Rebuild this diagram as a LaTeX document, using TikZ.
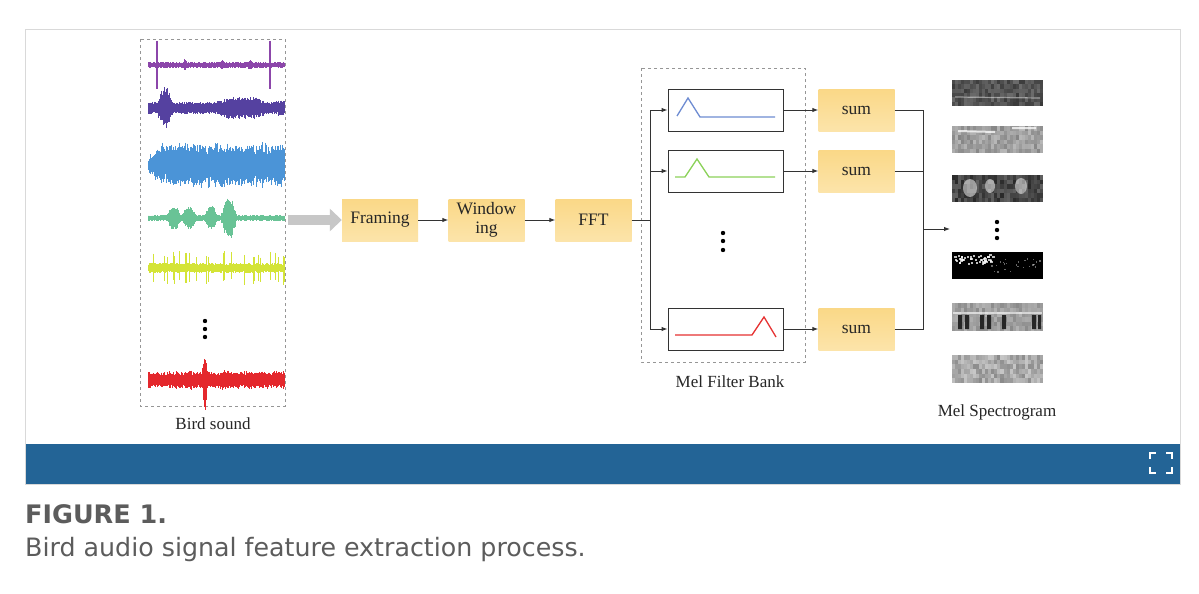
\documentclass[tikz,border=0pt]{standalone}
\usepackage{fontspec}
\usepackage{graphicx}
\setmainfont{Liberation Serif}
\newfontfamily\capfont{DejaVu Sans}
\usetikzlibrary{arrows.meta,calc}
\definecolor{boxfill}{RGB}{250,216,135}
\definecolor{boxfilllt}{RGB}{252,228,170}
\definecolor{barblue}{RGB}{35,100,150}
\definecolor{capgray}{RGB}{92,92,92}
\definecolor{dashgray}{RGB}{150,150,150}
\definecolor{wpurple}{RGB}{140,70,170}
\definecolor{wdblue}{RGB}{85,65,160}
\definecolor{wlblue}{RGB}{75,148,215}
\definecolor{wgreen}{RGB}{105,195,150}
\definecolor{wyellow}{RGB}{212,228,55}
\definecolor{wred}{RGB}{228,40,45}
\definecolor{fblue}{RGB}{110,140,210}
\definecolor{fgreen}{RGB}{140,210,90}
\definecolor{fred}{RGB}{230,50,50}
\newcommand\specgrid[4]{%
  \foreach \i in {0,...,29}{\foreach \j in {0,...,5}{%
    \pgfmathsetmacro\g{#3+#4*rnd}%
    \fill[black!\g] ({952+3.03*\i},{#1+\j*#2/6}) rectangle ++(3.4,{#2/6+0.3});}}}
\newcommand\wavefill[3]{%
  \foreach \x in {148,148.6,...,285}{%
    \pgfmathsetmacro\aa{#3}%
    \pgfmathsetmacro\up{\aa*(0.6+0.4*rnd)}%
    \pgfmathsetmacro\dn{\aa*(0.6+0.4*rnd)}%
    \draw[#1, line width=0.8pt] (\x,{#2-\up}) -- (\x,{#2+\dn});}}
\tikzset{
  proc/.style={rectangle, top color=boxfill, bottom color=boxfilllt, draw=none,
    minimum width=76pt, minimum height=42pt, inner sep=1pt, align=center,
    font=\fontsize{17.5}{19.5}\selectfont, text=black!85},
  filt/.style={rectangle, draw=black!80, line width=1pt, minimum width=115pt, minimum height=42pt},
  grp/.style={draw=dashgray, dashed, line width=0.8pt},
  conn/.style={draw=black!80, line width=1pt},
  arr/.style={conn, -{Latex[length=6pt,width=4.5pt]}},
  lbl/.style={font=\fontsize{17}{19}\selectfont, text=black!85},
}
\begin{document}
\begin{tikzpicture}[x=1pt,y=-1pt]
\useasboundingbox (0,0) rectangle (1199,594);
\fill[white] (0,0) rectangle (1199,594);
% frame
\draw[black!15, line width=1pt] (25.5,29.5) rectangle (1180.5,484.5);
\fill[barblue] (26,444) rectangle (1180,484);
\draw[white, line width=2.5pt] (1150,459)--(1150,453)--(1156,453) (1166,453)--(1172,453)--(1172,459)
  (1150,467)--(1150,473)--(1156,473) (1172,467)--(1172,473)--(1166,473);
\node[anchor=base west, inner sep=0, text=capgray, font=\capfont\bfseries\fontsize{25.5}{28}\selectfont] (figlbl) at (25,523) {FIGURE 1.};
\node[anchor=base west, inner sep=0, text=capgray, font=\capfont\fontsize{25.3}{28}\selectfont] (figcap) at (25,556) {Bird audio signal feature extraction process.};

% ---------- bird sound ----------
\pgfmathsetseed{7}
\draw[grp] (140,39) rectangle (285,406);
\node[lbl] (birdlbl) at (213,424) {Bird sound};
% purple
\wavefill{wpurple}{65}{3 + 4*max(0,1-abs(\x-185)/2) + 3*max(0,1-abs(\x-222)/2) + 2*max(0,1-abs(\x-250)/3)}
\draw[wpurple, line width=1.5pt] (157,41)--(157,89) (270,41)--(270,89);
% dark blue
\wavefill{wdblue}{108}{6 + 15*min(1,1.4*max(0,1-abs(\x-165)/8)) + 5*min(1,2*max(0,1-abs(\x-242)/26)) + 3*max(0,1-abs(\x-281)/6)}
% light blue
\wavefill{wlblue}{165}{5 + 15*min(1,max(0,(\x-148)/14)) + 3*(rnd>0.7) - 5*(rnd>0.93)}
% green
\wavefill{wgreen}{218}{3 + 9*min(1,1.6*max(0,1-abs(\x-174)/7)) + 8*min(1,1.6*max(0,1-abs(\x-189)/7)) + 9*min(1,1.6*max(0,1-abs(\x-211)/6)) + 19*min(1,1.3*max(0,1-abs(\x-229)/8))}
% yellow
\wavefill{wyellow}{268}{5 + 12*(rnd>0.88)}
% dots
\fill[black] (205,321) circle (2.2) (205,329) circle (2.2) (205,337) circle (2.2);
% red
\wavefill{wred}{380}{8 + 20*min(1,1.3*max(0,1-abs(\x-205)/3)) + 2*(rnd>0.85)}

% gray arrow
\coordinate (gaS) at (288,220);
\node[proc] (framing) at (380,220) {Framing};
\node[proc] (window) at (486.5,220) {Window\\ing};
\node[proc] (fft) at (593.5,220) {FFT};
\draw[black!22, line width=10pt, -{Triangle[length=12pt,width=22pt]}] (gaS) -- (framing.west);
\draw[arr] (framing) -- (window);
\draw[arr] (window) -- (fft);

% ---------- mel filter bank ----------
\draw[grp] (641,68) rectangle (805,362);
\node[lbl] (mellbl) at (730,382) {Mel Filter Bank};
\node[filt] (f1) at (725.5,110) {};
\node[filt] (f2) at (725.5,171) {};
\node[filt] (f3) at (725.5,329) {};
\draw[fblue, line width=1.3pt] (677,116)--(688,98)--(700,117)--(775,117);
\draw[fgreen, line width=1.3pt] (675,177)--(685,177)--(697,159)--(709,177)--(775,177);
\draw[fred, line width=1.3pt] (675,335)--(752,335)--(764,317)--(776,337);
\fill[black] (723,233) circle (2.2) (723,241) circle (2.2) (723,250) circle (2.2);
\coordinate (bus) at (650,220);
\draw[conn] (fft.east) -- (bus);
\draw[arr] (bus) |- (f1.west);
\draw[arr] (bus) |- (f3.west);
\draw[arr] (bus |- f2.west) -- (f2.west);

% ---------- sums ----------
\node[proc] (s1) at (856.5,110) {sum};
\node[proc] (s2) at (856.5,171) {sum};
\node[proc] (s3) at (856.5,329) {sum};
\draw[arr] (f1) -- (s1);
\draw[arr] (f2) -- (s2);
\draw[arr] (f3) -- (s3);
\coordinate (bus2) at (923,229);
\coordinate (specin) at (950,229);
\draw[conn] (s1.east) -| (bus2);
\draw[conn] (s3.east) -| (bus2);
\draw[conn] (s2.east) -- (bus2 |- s2.east);
\draw[arr] (bus2) -- (specin);

% ---------- spectrograms ----------
\pgfmathsetseed{11}
\specgrid{80}{26}{58}{20}
\draw[white, opacity=0.45, line width=1.2pt] (955,97) -- (1040,98);
\specgrid{126}{27}{28}{20}
\draw[white, opacity=0.75, line width=2pt] (958,131) -- (995,132) (1012,128)--(1036,128);
\specgrid{175}{27}{62}{22}
\fill[white, opacity=0.5] (970,188) ellipse (7 and 9) (990,186) ellipse (5 and 7) (1021,186) ellipse (6 and 8);
\fill[black] (997,222) circle (2.2) (997,230) circle (2.2) (997,238) circle (2.2);
\fill[black] (952,252) rectangle (1043,279);
\foreach \k in {1,...,45}{\pgfmathsetmacro\px{953+40*rnd}\pgfmathsetmacro\py{254+9*rnd}\fill[white, opacity=0.75] (\px,\py) rectangle ++(2.5,2);}
\foreach \k in {1,...,25}{\pgfmathsetmacro\px{990+50*rnd}\pgfmathsetmacro\py{258+14*rnd}\fill[white, opacity=0.4] (\px,\py) rectangle ++(1.5,1.5);}
\specgrid{303}{28}{30}{16}
\fill[black!85] (958,315) rectangle (962,329) (965,315) rectangle (969,329) (980,315) rectangle (984,329) (987,315) rectangle (991,329) (1002,315) rectangle (1006,329) (1032,315) rectangle (1036,329) (1038,315) rectangle (1041,329);
\draw[white, opacity=0.6, line width=1.5pt] (953,313) -- (1042,313);
\specgrid{355}{28}{22}{24}
% labels
\node[lbl] (speclbl) at (997,412) {Mel Spectrogram};
\end{tikzpicture}
\end{document}
